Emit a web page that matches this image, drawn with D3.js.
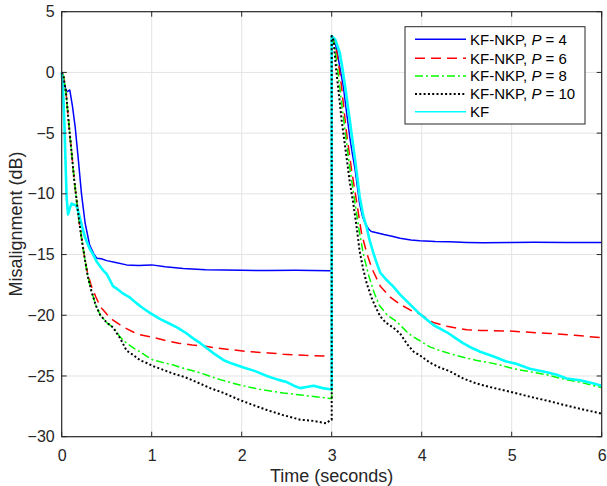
<!DOCTYPE html>
<html>
<head>
<meta charset="utf-8">
<script src="https://cdn.jsdelivr.net/npm/d3@7/dist/d3.min.js"></script>
<style>
  html, body { margin: 0; padding: 0; background: #fff; }
  svg { display: block; font-family: "Liberation Sans", Arial, Helvetica, sans-serif; }
</style>
</head>
<body>
<svg id="chart" width="607" height="486"></svg>
<script>
// Misalignment (dB) versus time; the echo path changes at t = 3 s.

const xTicks = [0, 1, 2, 3, 4, 5, 6];
const yTicks = [5, 0, -5, -10, -15, -20, -25, -30];

const legendLabels = ["KF-NKP, P = 4", "KF-NKP, P = 6", "KF-NKP, P = 8", "KF-NKP, P = 10", "KF"];

// KF-NKP, P = 4
const timeP4 = [0, 0.03, 0.055, 0.09, 0.12, 0.15, 0.185, 0.22, 0.26, 0.31, 0.36, 0.39, 0.44, 0.5, 0.6, 0.72, 0.85, 1.0, 1.15, 1.35, 1.6, 2.0, 2.3, 2.6, 2.98, 3.0,
  3.0, 3.04, 3.07, 3.1, 3.13, 3.16, 3.2, 3.23, 3.26, 3.31, 3.34, 3.37, 3.41, 3.44, 3.5, 3.58, 3.67, 3.76, 3.88, 3.98, 4.15, 4.31, 4.5, 4.68, 5.0, 5.24, 5.6, 6.0];
const misP4 = [0, -1.0, -1.6, -1.45, -2.8, -4.5, -7.2, -10.0, -12.4, -14.2, -15.0, -15.3, -15.35, -15.5, -15.65, -15.85, -15.9, -15.85, -16.0, -16.15, -16.25, -16.3, -16.32, -16.3, -16.33, -16.33,
  3.0, 2.4, 1.3, 0.0, -1.2, -3.0, -5.3, -6.7, -8.0, -10.8, -11.8, -12.4, -12.9, -13.1, -13.2, -13.35, -13.5, -13.65, -13.8, -13.86, -13.92, -13.95, -14.0, -14.02, -14.0, -13.98, -14.0, -14.0];

// KF-NKP, P = 6
const timeP6 = [0, 0.02, 0.05, 0.08, 0.11, 0.14, 0.17, 0.2, 0.23, 0.26, 0.29, 0.33, 0.38, 0.43, 0.5, 0.57, 0.65, 0.72, 0.8, 0.87, 1.0, 1.17, 1.3, 1.45, 1.6, 1.72, 1.9, 2.09, 2.3, 2.46, 2.7, 2.98, 3.0,
  3.0, 3.04, 3.08, 3.11, 3.16, 3.22, 3.28, 3.33, 3.39, 3.45, 3.54, 3.65, 3.76, 3.88, 3.98, 4.13, 4.28, 4.5, 4.65, 4.98, 5.2, 5.43, 5.7, 6.0];
const misP6 = [0, -0.3, -1.8, -4.3, -6.6, -8.9, -10.8, -12.6, -14.1, -15.5, -16.6, -17.6, -18.5, -19.3, -19.9, -20.4, -20.8, -21.1, -21.4, -21.6, -21.8, -22.1, -22.3, -22.45, -22.55, -22.7, -22.85, -23.0, -23.1, -23.2, -23.3, -23.36, -23.36,
  3.0, 2.4, 0.5, -1.2, -4.7, -8.0, -10.8, -13.2, -14.9, -16.2, -17.6, -18.5, -19.1, -19.6, -19.9, -20.6, -20.9, -21.2, -21.25, -21.3, -21.4, -21.5, -21.65, -21.85];

// KF-NKP, P = 8
const timeP8 = [0, 0.02, 0.05, 0.08, 0.11, 0.14, 0.17, 0.2, 0.23, 0.26, 0.29, 0.33, 0.38, 0.43, 0.5, 0.57, 0.65, 0.72, 0.8, 0.87, 0.95, 1.02, 1.13, 1.24, 1.37, 1.5, 1.6, 1.76, 1.98, 2.2, 2.46, 2.7, 2.98, 3.0,
  3.0, 3.03, 3.07, 3.11, 3.15, 3.2, 3.26, 3.3, 3.35, 3.41, 3.47, 3.53, 3.62, 3.7, 3.76, 3.84, 3.91, 3.98, 4.09, 4.2, 4.33, 4.46, 4.6, 4.75, 4.87, 5.02, 5.24, 5.39, 5.54, 5.75, 6.0];
const misP8 = [0, -0.3, -1.8, -4.3, -6.6, -8.9, -10.8, -12.6, -14.1, -15.5, -16.8, -18.0, -19.2, -20.0, -20.6, -21.0, -21.8, -22.3, -22.7, -23.0, -23.4, -23.7, -23.9, -24.1, -24.4, -24.65, -24.9, -25.3, -25.75, -26.1, -26.4, -26.6, -26.85, -26.85,
  3.0, 2.3, 0.0, -2.5, -4.9, -7.8, -10.8, -12.8, -14.9, -16.7, -18.1, -19.2, -20.0, -20.4, -20.8, -21.4, -21.8, -22.1, -22.6, -22.9, -23.2, -23.45, -23.7, -23.9, -24.1, -24.4, -24.7, -24.9, -25.2, -25.5, -25.95];

// KF-NKP, P = 10
const timeP10 = [0, 0.02, 0.05, 0.08, 0.11, 0.14, 0.17, 0.2, 0.23, 0.26, 0.29, 0.33, 0.38, 0.43, 0.5, 0.57, 0.65, 0.72, 0.8, 0.87, 0.95, 1.02, 1.13, 1.24, 1.37, 1.5, 1.65, 1.8, 1.98, 2.13, 2.28, 2.45, 2.65, 2.8, 2.94, 2.99, 3.0,
  3.0, 3.02, 3.05, 3.08, 3.11, 3.16, 3.2, 3.24, 3.28, 3.31, 3.35, 3.39, 3.45, 3.5, 3.54, 3.6, 3.68, 3.76, 3.84, 3.91, 3.98, 4.09, 4.2, 4.31, 4.46, 4.6, 4.75, 4.98, 5.2, 5.43, 5.7, 6.0];
const misP10 = [0, -0.3, -1.8, -4.3, -6.6, -8.9, -10.8, -12.6, -14.1, -15.5, -16.8, -18.0, -19.2, -20.0, -20.6, -21.0, -21.9, -22.9, -23.3, -23.7, -23.95, -24.2, -24.5, -24.8, -25.1, -25.5, -26.0, -26.4, -26.98, -27.4, -27.8, -28.2, -28.6, -28.7, -28.9, -28.6, -28.6,
  3.0, 2.67, 0.2, -1.8, -3.9, -6.7, -9.0, -10.8, -12.9, -14.7, -16.2, -17.4, -18.7, -19.5, -20.1, -20.6, -21.0, -21.5, -22.4, -23.0, -23.3, -23.9, -24.3, -24.6, -25.2, -25.6, -25.9, -26.3, -26.7, -27.1, -27.6, -28.1];

// KF
const timeKF = [0, 0.015, 0.03, 0.045, 0.055, 0.07, 0.09, 0.11, 0.13, 0.15, 0.17, 0.2, 0.22, 0.26, 0.31, 0.35, 0.39, 0.43, 0.46, 0.5, 0.57, 0.61, 0.68, 0.75, 0.83, 0.9, 0.98, 1.09, 1.2, 1.28, 1.37, 1.46, 1.54, 1.61, 1.7, 1.8, 1.9, 2.02, 2.15, 2.28, 2.4, 2.5, 2.58, 2.65, 2.72, 2.8, 2.9, 2.98, 3.0,
  3.0, 3.04, 3.09, 3.12, 3.15, 3.2, 3.26, 3.31, 3.35, 3.39, 3.42, 3.46, 3.5, 3.54, 3.61, 3.68, 3.76, 3.87, 3.98, 4.13, 4.28, 4.38, 4.46, 4.56, 4.65, 4.8, 4.94, 5.05, 5.2, 5.39, 5.5, 5.61, 5.76, 5.9, 6.0];
const misKF = [0, -1.5, -4.2, -8.0, -10.3, -11.7, -11.2, -10.8, -10.9, -10.9, -11.1, -11.9, -12.5, -13.6, -14.5, -15.0, -15.6, -16.0, -16.3, -16.6, -17.6, -17.8, -18.2, -18.5, -19.0, -19.4, -19.8, -20.3, -20.7, -21.0, -21.4, -21.9, -22.3, -22.7, -23.2, -23.7, -24.0, -24.3, -24.6, -25.0, -25.3, -25.5, -25.8, -26.0, -25.9, -25.8, -26.0, -26.1, -26.1,
  3.0, 2.7, 1.6, 0.3, -1.2, -3.9, -7.2, -10.2, -11.8, -12.8, -13.8, -14.8, -15.7, -16.5, -17.1, -17.6, -18.3, -19.1, -19.9, -20.8, -21.4, -21.9, -22.3, -22.7, -23.0, -23.4, -23.8, -24.0, -24.4, -24.7, -24.9, -25.2, -25.35, -25.6, -25.8];

const series = [
  { t: timeP4,  v: misP4,  color: "#0000ff", width: 1.5, dash: null },
  { t: timeP6,  v: misP6,  color: "#ff0000", width: 1.5, dash: "10,6" },
  { t: timeP8,  v: misP8,  color: "#00ff00", width: 1.5, dash: "8,3,2,3" },
  { t: timeKF,  v: misKF,  color: "#00ffff", width: 2.6, dash: null },
  { t: timeP10, v: misP10, color: "#000000", width: 2, dash: "2,2.3" }
];
const legendStyles = [series[0], series[1], series[2], series[4], series[3]];

const svg = d3.select("#chart");
const pL = 61.7, pR = 601.7, pT = 11.7, pB = 436.7;
const x = d3.scaleLinear().domain([0, 6]).range([pL, pR]);
const y = d3.scaleLinear().domain([-30, 5]).range([pB, pT]);
const axisColor = "#262626";

// grid
const grid = svg.append("g");
grid.selectAll(".gx").data(xTicks.slice(1, -1)).join("line")
  .attr("x1", d => x(d)).attr("x2", d => x(d)).attr("y1", pT).attr("y2", pB)
  .attr("stroke", "#e3e3e3").attr("stroke-width", 1);
grid.selectAll(".gy").data(yTicks.slice(1, -1)).join("line")
  .attr("y1", d => y(d)).attr("y2", d => y(d)).attr("x1", pL).attr("x2", pR)
  .attr("stroke", "#e3e3e3").attr("stroke-width", 1);

// curves
const plot = svg.append("g");
series.forEach(s => {
  const pts = s.t.map((t, i) => [t, s.v[i]]);
  const line = d3.line().x(d => x(d[0])).y(d => y(d[1]));
  plot.append("path").datum(pts)
    .attr("d", line)
    .attr("fill", "none")
    .attr("stroke", s.color)
    .attr("stroke-width", s.width)
    .attr("stroke-linejoin", "round")
    .attr("stroke-dasharray", s.dash);
});

// axes box with inward ticks
const ax = svg.append("g");
ax.append("rect").attr("x", pL).attr("y", pT).attr("width", pR - pL).attr("height", pB - pT)
  .attr("fill", "none").attr("stroke", axisColor).attr("stroke-width", 1.2);
const tl = 5;
xTicks.forEach(d => {
  ax.append("line").attr("x1", x(d)).attr("x2", x(d)).attr("y1", pB).attr("y2", pB - tl).attr("stroke", axisColor);
  ax.append("line").attr("x1", x(d)).attr("x2", x(d)).attr("y1", pT).attr("y2", pT + tl).attr("stroke", axisColor);
});
yTicks.forEach(d => {
  ax.append("line").attr("y1", y(d)).attr("y2", y(d)).attr("x1", pL).attr("x2", pL + tl).attr("stroke", axisColor);
  ax.append("line").attr("y1", y(d)).attr("y2", y(d)).attr("x1", pR).attr("x2", pR - tl).attr("stroke", axisColor);
});

// tick labels via d3 axes
const xAxis = d3.axisBottom(x).tickValues(xTicks).tickSize(0).tickPadding(13).tickFormat(d3.format("d"));
const gx = svg.append("g").attr("transform", `translate(0,${pB})`).call(xAxis);
gx.select(".domain").remove();
gx.selectAll("text").attr("font-size", 16).attr("fill", axisColor).attr("font-family", "Liberation Sans, Arial, sans-serif");

const yAxis = d3.axisLeft(y).tickValues(yTicks).tickSize(0).tickPadding(7).tickFormat(d3.format("d"));
const gy = svg.append("g").attr("transform", `translate(${pL},0)`).call(yAxis);
gy.select(".domain").remove();
gy.selectAll("text").attr("font-size", 16).attr("fill", axisColor).attr("font-family", "Liberation Sans, Arial, sans-serif");

// axis titles
svg.append("text").attr("x", x(3)).attr("y", 482).attr("text-anchor", "middle")
  .attr("font-size", 18).attr("fill", axisColor).text("Time (seconds)");
svg.append("text").attr("transform", "translate(21.5,224) rotate(-90)").attr("text-anchor", "middle")
  .attr("font-size", 18).attr("fill", axisColor).text("Misalignment (dB)");

// legend
const lg = svg.append("g");
lg.append("rect").attr("x", 405).attr("y", 26.7).attr("width", 180).attr("height", 97.3)
  .attr("fill", "#fff").attr("stroke", axisColor).attr("stroke-width", 1);
const rowY = [39.3, 58.3, 76, 94, 111.7];
legendLabels.forEach((lab, i) => {
  const s = legendStyles[i];
  lg.append("line").attr("x1", 415).attr("x2", 466).attr("y1", rowY[i]).attr("y2", rowY[i])
    .attr("stroke", s.color).attr("stroke-width", s === series[3] ? 1.6 : s.width).attr("stroke-dasharray", s.dash);
  const txt = lg.append("text").attr("x", 470).attr("y", rowY[i]).attr("dy", "0.36em")
    .attr("font-size", 15).attr("fill", "#000");
  const m = lab.match(/^(KF-NKP, )P( = \d+)$/);
  if (m) {
    txt.append("tspan").text(m[1]);
    txt.append("tspan").attr("font-style", "italic").text("P");
    txt.append("tspan").text(m[2]);
  } else {
    txt.text(lab);
  }
});
</script>
</body>
</html>
